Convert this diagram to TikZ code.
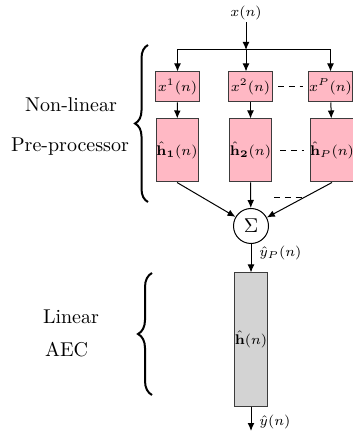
\documentclass[tikz,border=0pt]{standalone}
\usetikzlibrary{arrows.meta,decorations.pathreplacing,calc}
\definecolor{blockpink}{RGB}{255,184,196}
\definecolor{blockgray}{RGB}{211,211,211}
\definecolor{edgegray}{RGB}{60,60,60}
\begin{document}
\begin{tikzpicture}[x=0.5pt,y=-0.5pt,
  conn/.style={line width=0.5pt, -{Latex[length=4pt,width=3.4pt]}},
  etc/.style={line width=0.5pt, dash pattern=on 3pt off 2.4pt},
  pbox/.style={draw=edgegray, fill=blockpink, line width=0.5pt, inner sep=0pt, font=\scriptsize},
  powbox/.style={pbox, minimum width=22pt, minimum height=15pt},
  filtbox/.style={pbox, minimum width=21pt, minimum height=31.5pt},
  aecbox/.style={draw=edgegray, fill=blockgray, line width=0.5pt, inner sep=0pt, font=\scriptsize,
                 minimum width=15pt, minimum height=66.5pt},
  sumnode/.style={draw, circle, line width=0.5pt, fill=white, inner sep=0pt, minimum size=17.5pt},
  siglabel/.style={font=\scriptsize, inner sep=1pt},
  groupbrace/.style={decorate, line width=1pt},
]
\useasboundingbox (0,0) rectangle (352,431);

% input and power branches
\node[siglabel] (xin) at (246,13) {$x(n)$};
\coordinate (split) at (246,50);
\node[powbox] (p1) at (177.5,87) {$x^1(n)$};
\node[powbox] (p2) at (250.5,87) {$x^2(n)$};
\node[powbox] (p3) at (330.5,87) {$x^P(n)$};

% branch filters
\node[filtbox] (h1) at (177,150.5) {$\hat{\mathbf{h}}_{\mathbf{1}}(n)$};
\node[filtbox] (h2) at (250.5,150.5) {$\hat{\mathbf{h}}_{\mathbf{2}}(n)$};
\node[filtbox] (h3) at (332,150.5) {$\hat{\mathbf{h}}_P(n)$};

% summation and linear echo canceller
\node[sumnode] (sum) at (251,226) {$\Sigma$};
\node[aecbox] (aec) at (251,339.5) {$\hat{\mathbf{h}}(n)$};
\coordinate (out) at (251,431);

% connectors
\draw[conn] (xin) -- (split);
\draw[conn] (split) -| (p1.north);
\draw[conn] (split) -| (p3.north);
\draw[conn] (split) -- (split |- p2.north);
\draw[conn] (p1) -- (h1);
\draw[conn] (p2) -- (h2);
\draw[conn] (p3) -- (h3);
\draw[conn] (h1.south) -- (sum);
\draw[conn] (h2.south) -- (sum);
\draw[conn] (h3.south) -- (sum);
\draw[conn] (sum) -- (aec);
\draw[conn] (aec) -- (out);

% signal labels
\node[siglabel, anchor=west] (yp) at (257,253) {$\hat{y}_P(n)$};
\node[siglabel, anchor=west] (yout) at (257,422) {$\hat{y}(n)$};

% omitted branches
\draw[etc] ($(p2.east)+(5,0)$) -- ($(p3.west)+(-5,0)$);
\draw[etc] ($(h2.east)+(8,0)$) -- ($(h3.west)+(-6,0)$);
\draw[etc] (274,198) -- (302,198);

% group braces and captions
\draw[groupbrace, decoration={brace, amplitude=6.5pt}] (148,202) -- (148,45);
\draw[groupbrace, decoration={brace, amplitude=7pt}] (152,395) -- (152,273);
\node (nl1) at (71,105) {Non-linear};
\node (nl2) at (70,147) {Pre-processor};
\node[anchor=west] (la1) at (36,317) {Linear};
\node[anchor=west] (la2) at (38,350) {AEC};
\end{tikzpicture}
\end{document}
